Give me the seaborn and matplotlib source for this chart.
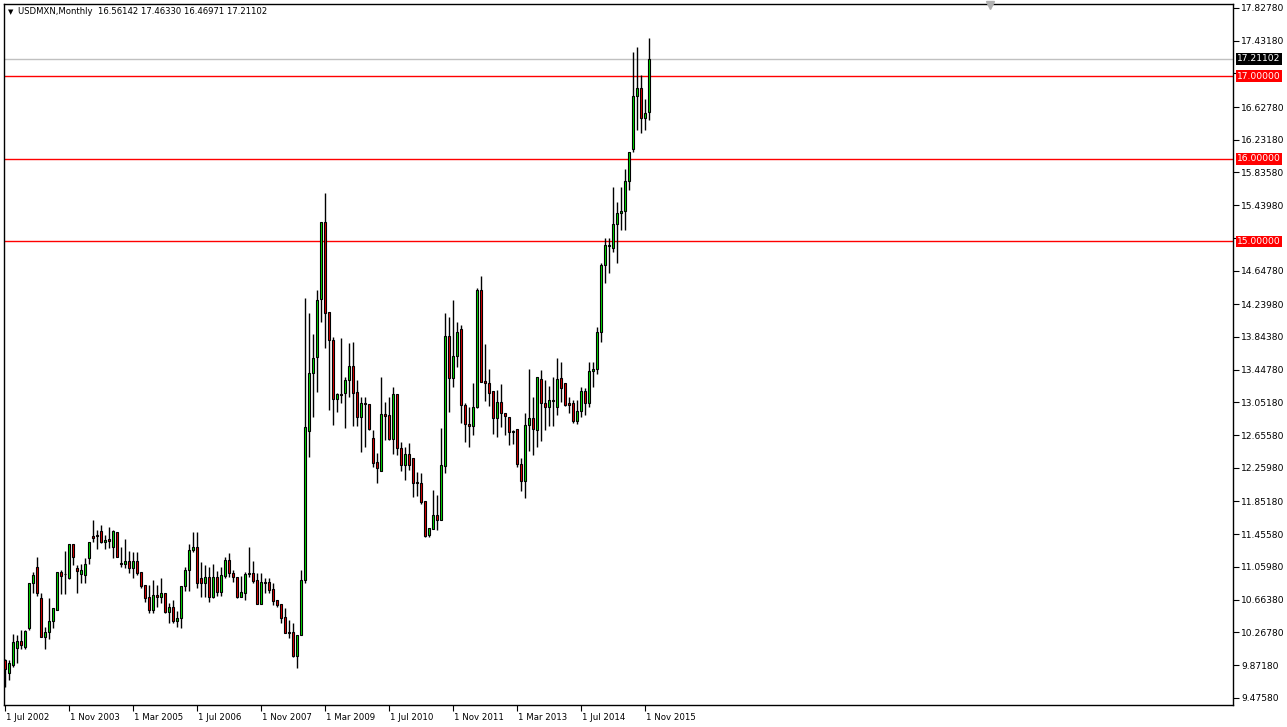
import numpy as np
import pandas as pd
import matplotlib
matplotlib.use("Agg")
import matplotlib.pyplot as plt
import matplotlib.transforms as mtransforms
import seaborn as sns

# ---------------- data (USDMXN monthly, Jul 2002 .. Dec 2015) ----------------
opens = [9.93, 9.77, 9.87, 10.08, 10.16, 10.09, 10.32, 10.87, 11.06, 10.68, 10.21, 10.27,
         10.41, 10.54, 11.00, 10.98, 10.93, 11.34, 11.05, 10.98, 10.96, 11.17, 11.44, 11.45,
         11.49, 11.36, 11.40, 11.30, 11.48, 11.11, 11.10, 11.13, 11.05, 11.13, 11.00, 10.84,
         10.69, 10.54, 10.72, 10.70, 10.74, 10.51, 10.57, 10.41, 10.44, 10.83, 11.02, 11.26,
         11.30, 10.93, 10.87, 10.94, 10.70, 10.94, 10.76, 10.95, 11.14, 10.99, 10.94, 10.70,
         10.74, 10.98, 10.99, 10.90, 10.61, 10.88, 10.88, 10.79, 10.66, 10.61, 10.45, 10.27,
         10.27, 9.98, 10.23, 10.90, 12.70, 13.41, 13.60, 14.30, 15.24, 14.15, 13.81, 13.09,
         13.15, 13.16, 13.32, 13.49, 13.18, 12.87, 13.04, 13.03, 12.62, 12.33, 12.22, 12.91,
         12.90, 12.61, 13.15, 12.50, 12.29, 12.43, 12.38, 12.09, 12.07, 11.86, 11.45, 11.52,
         11.69, 11.63, 12.28, 13.86, 13.35, 13.61, 13.94, 13.02, 12.79, 12.77, 12.99, 14.41,
         13.31, 13.29, 13.19, 12.86, 13.06, 12.92, 12.88, 12.69, 12.73, 12.31, 12.10, 12.78,
         12.86, 12.72, 13.34, 13.05, 13.00, 13.08, 13.00, 13.35, 13.29, 13.04, 13.04, 12.83,
         12.95, 13.19, 13.04, 13.43, 13.45, 13.90, 14.71, 14.94, 14.92, 15.21, 15.35, 15.37,
         15.73, 16.12, 16.76, 16.86, 16.49, 16.56142]
highs = [9.95, 9.93, 10.25, 10.24, 10.29, 10.29, 10.87, 11.00, 11.18, 10.74, 10.33, 10.68,
         10.56, 11.00, 11.02, 11.25, 11.34, 11.34, 11.08, 11.09, 11.17, 11.36, 11.63, 11.51,
         11.57, 11.45, 11.54, 11.51, 11.48, 11.30, 11.40, 11.25, 11.24, 11.24, 11.00, 10.84,
         10.84, 10.90, 10.84, 10.93, 10.75, 10.62, 10.66, 10.53, 10.83, 11.06, 11.34, 11.48,
         11.48, 11.12, 11.08, 11.06, 11.09, 11.01, 11.06, 11.18, 11.23, 11.02, 10.94, 10.95,
         11.00, 11.30, 11.13, 10.99, 10.99, 10.92, 10.93, 10.86, 10.66, 10.61, 10.56, 10.42,
         10.38, 10.23, 11.02, 14.31, 14.13, 13.88, 14.41, 15.24, 15.59, 14.15, 13.84, 13.17,
         13.83, 13.36, 13.77, 13.78, 13.32, 13.12, 13.12, 13.03, 12.72, 12.44, 13.36, 13.06,
         13.12, 13.24, 13.15, 12.57, 12.51, 12.56, 12.38, 12.21, 12.20, 11.86, 11.53, 11.99,
         11.93, 12.74, 14.13, 14.09, 14.29, 14.03, 13.99, 13.05, 12.99, 13.29, 14.44, 14.58,
         13.76, 13.46, 13.19, 13.20, 13.28, 12.92, 12.88, 12.72, 12.73, 12.38, 12.92, 13.45,
         13.12, 13.36, 13.44, 13.32, 13.25, 13.36, 13.59, 13.54, 13.29, 13.12, 13.08, 13.08,
         13.24, 13.23, 13.54, 13.54, 13.96, 14.74, 15.04, 15.04, 15.66, 15.48, 15.66, 15.88,
         16.08, 17.29, 17.35, 17.01, 16.72, 17.46330]
lows = [9.61, 9.69, 9.85, 9.90, 10.07, 10.07, 10.30, 10.75, 10.71, 10.21, 10.07, 10.19,
        10.32, 10.54, 10.73, 10.73, 10.91, 11.08, 10.75, 10.87, 10.87, 11.10, 11.36, 11.28,
        11.35, 11.28, 11.29, 11.17, 11.18, 11.06, 11.05, 10.99, 10.93, 10.96, 10.80, 10.64,
        10.50, 10.50, 10.58, 10.62, 10.50, 10.38, 10.38, 10.33, 10.32, 10.77, 10.77, 11.24,
        10.81, 10.70, 10.70, 10.64, 10.68, 10.71, 10.71, 10.92, 10.94, 10.88, 10.68, 10.70,
        10.66, 10.94, 10.87, 10.61, 10.61, 10.75, 10.74, 10.60, 10.58, 10.38, 10.26, 10.20,
        9.97, 9.83, 10.23, 10.86, 12.39, 12.87, 13.18, 14.02, 13.71, 12.96, 12.78, 12.93,
        13.04, 12.74, 13.12, 12.77, 12.77, 12.45, 12.51, 12.72, 12.27, 12.08, 12.22, 12.60,
        12.60, 12.43, 12.42, 12.22, 12.11, 12.23, 11.91, 11.92, 11.82, 11.42, 11.42, 11.52,
        11.51, 11.63, 12.20, 12.93, 13.24, 13.48, 12.80, 12.57, 12.51, 12.66, 12.98, 13.30,
        13.07, 13.01, 12.67, 12.63, 12.75, 12.66, 12.54, 12.55, 12.27, 11.98, 11.89, 12.46,
        12.41, 12.51, 12.58, 12.72, 12.77, 12.77, 12.90, 13.06, 13.01, 12.92, 12.80, 12.79,
        12.87, 12.90, 12.99, 13.24, 13.40, 13.78, 14.50, 14.62, 14.87, 14.74, 15.14, 15.14,
        15.62, 16.08, 16.35, 16.31, 16.35, 16.46971]
closes = [9.82, 9.90, 10.15, 10.16, 10.11, 10.28, 10.86, 10.96, 10.74, 10.21, 10.27, 10.41,
          10.56, 11.00, 10.95, 10.97, 11.34, 11.18, 11.01, 11.02, 11.09, 11.36, 11.41, 11.43,
          11.36, 11.38, 11.37, 11.49, 11.18, 11.10, 11.13, 11.05, 11.13, 10.99, 10.83, 10.68,
          10.54, 10.72, 10.70, 10.74, 10.51, 10.57, 10.41, 10.44, 10.83, 11.02, 11.26, 11.30,
          10.87, 10.87, 10.94, 10.70, 10.94, 10.76, 10.96, 11.14, 10.99, 10.94, 10.70, 10.76,
          10.98, 10.99, 10.89, 10.61, 10.88, 10.87, 10.78, 10.65, 10.60, 10.44, 10.26, 10.26,
          9.98, 10.23, 10.90, 12.75, 13.41, 13.59, 14.29, 15.24, 14.13, 13.81, 13.09, 13.15,
          13.14, 13.32, 13.49, 13.16, 12.87, 13.04, 13.03, 12.73, 12.32, 12.26, 12.91, 12.89,
          12.61, 13.15, 12.50, 12.29, 12.43, 12.29, 12.08, 12.07, 11.85, 11.44, 11.53, 11.69,
          11.63, 12.29, 13.86, 13.35, 13.61, 13.90, 13.02, 12.79, 12.77, 12.99, 14.41, 13.30,
          13.29, 13.17, 12.86, 13.06, 12.92, 12.89, 12.69, 12.71, 12.31, 12.10, 12.78, 12.86,
          12.73, 13.36, 13.05, 13.00, 13.08, 13.07, 13.34, 13.23, 13.02, 13.02, 12.83, 12.95,
          13.19, 13.04, 13.43, 13.45, 13.90, 14.71, 14.96, 14.96, 15.21, 15.35, 15.37, 15.73,
          16.08, 16.76, 16.86, 16.49, 16.56, 17.21102]

level_lines = [17.0, 16.0, 15.0]
last_price = 17.21102
header_text = "USDMXN,Monthly  16.56142 17.46330 16.46971 17.21102"

price_ticks = [17.82780, 17.43180, 17.03580, 16.62780, 16.23180, 15.83580, 15.43980, 15.04380,
               14.64780, 14.23980, 13.84380, 13.44780, 13.05180, 12.65580, 12.25980, 11.85180,
               11.45580, 11.05980, 10.66380, 10.26780, 9.87180, 9.47580]
hidden_ticks = [17.03580, 15.04380]

date_tick_pos = [0, 16, 32, 48, 64, 80, 96, 112, 128, 144, 160]
date_tick_labels = ["1 Jul 2002", "1 Nov 2003", "1 Mar 2005", "1 Jul 2006", "1 Nov 2007",
                    "1 Mar 2009", "1 Jul 2010", "1 Nov 2011", "1 Mar 2013", "1 Jul 2014",
                    "1 Nov 2015"]

# ---------------- styling ----------------
sns.set_theme(style="white")
plt.rcParams["font.family"] = ["DejaVu Sans"]

W, H = 1287, 727
fig = plt.figure(figsize=(W / 100, H / 100), dpi=100)
fig.patch.set_facecolor("white")
ax = fig.add_axes([4 / W, 22 / H, 1229 / W, 701 / H])
ax.set_facecolor("white")

df = pd.DataFrame({"open": opens, "high": highs, "low": lows, "close": closes})
df["idx"] = np.arange(len(df))
df["up"] = df["close"] >= df["open"]
df["bottom"] = df[["open", "close"]].min(axis=1)
df["height"] = (df["close"] - df["open"]).abs()

# wicks
ax.vlines(df["idx"], df["low"], df["high"], color="black", lw=1.0, zorder=2)
# bodies
colors = np.where(df["up"], "#00e000", "#e00000")
ax.bar(df["idx"], df["height"], bottom=df["bottom"], width=0.62, color=colors,
       edgecolor="black", linewidth=0.8, zorder=3)

# horizontal levels
for lv in level_lines:
    ax.axhline(lv, color="#ff0000", lw=1.0, zorder=1)
ax.axhline(last_price, color="#c0c0c0", lw=1.0, zorder=1)

ax.set_xlim(-0.25, 307)
ax.set_ylim(9.388, 17.875)

# y axis on right
ax.yaxis.tick_right()
ax.set_yticks(price_ticks)
ax.set_yticklabels(["" if t in hidden_ticks else f"{t:.5f}" for t in price_ticks])
ax.tick_params(axis="y", direction="out", length=4, width=0.8, colors="black",
               labelsize=6.6, pad=2, right=True, left=False)

# x axis
ax.set_xticks(date_tick_pos)
ax.set_xticklabels(date_tick_labels, ha="left")
ax.tick_params(axis="x", direction="out", length=4, width=0.8, colors="black",
               labelsize=6.2, pad=2, bottom=True)
offset = mtransforms.ScaledTranslation(1 / 100, 0, fig.dpi_scale_trans)
for lbl in ax.get_xticklabels():
    lbl.set_horizontalalignment("left")
    lbl.set_transform(lbl.get_transform() + offset)

for s in ax.spines.values():
    s.set_color("black")
    s.set_linewidth(1.0)

# price label boxes on right axis
trans = mtransforms.blended_transform_factory(ax.transAxes, ax.transData)
box_x = 1.0 + 4 / 1229
ax.text(box_x, last_price, f"{last_price:.5f}", transform=trans, ha="left", va="center",
        fontsize=6.6, color="white", clip_on=False, zorder=10,
        bbox=dict(boxstyle="square,pad=0.15", fc="black", ec="none"))
for lv in level_lines:
    ax.text(box_x, lv, f"{lv:.5f}", transform=trans, ha="left", va="center",
            fontsize=6.6, color="white", clip_on=False, zorder=10,
            bbox=dict(boxstyle="square,pad=0.15", fc="#ff0000", ec="none"))

# header
ax.text(4 / 1229, 1 - 8 / 701, "\u25BC", transform=ax.transAxes, ha="left", va="center",
        fontsize=5, color="black")
ax.text(14 / 1229, 1 - 8 / 701, header_text, transform=ax.transAxes, ha="left",
        va="center", fontsize=6.1, color="black")

# chart shift marker
ax.plot([(990 - 4) / 1229], [1 - 1 / 701], marker="v", markersize=6, color="#b0b0b0",
        transform=ax.transAxes, clip_on=False, zorder=5)

fig.savefig("out.png", dpi=100, facecolor="white")
